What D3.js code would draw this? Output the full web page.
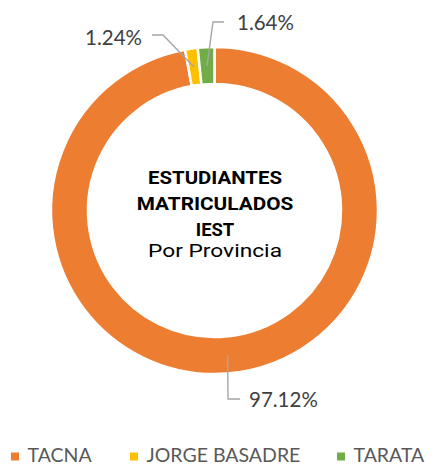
<!DOCTYPE html>
<html><head><meta charset="utf-8">
<script src="https://cdn.jsdelivr.net/npm/d3@7"></script>
<style>html,body{margin:0;padding:0;background:#fff;}svg{display:block;}</style>
</head><body>
<svg id="chart" width="432" height="464"></svg>
<script>
const categories = ["TACNA", "JORGE BASADRE", "TARATA"];
const values = [97.12, 1.24, 1.64];
const valueLabels = ["97.12%", "1.24%", "1.64%"];
const colors = ["#ED7D31", "#FFC000", "#70AD47"];
const titleLines = ["ESTUDIANTES", "MATRICULADOS", "IEST"];
const subtitle = "Por Provincia";

const W = 432, H = 464;
const cx = 214.5, cy = 210.5, outerR = 163.5, innerR = 126.5;
const svg = d3.select("#chart");
const g = svg.append("g").attr("transform", `translate(${cx},${cy})`);

const pie = d3.pie().sort(null).value(d => d)(values);
const arc = d3.arc().innerRadius(innerR).outerRadius(outerR);
const midArc = d3.arc().innerRadius((innerR + outerR) / 2).outerRadius((innerR + outerR) / 2);

g.selectAll("path.slice").data(pie).join("path")
  .attr("class", "slice")
  .attr("d", arc)
  .attr("fill", (d, i) => colors[i])
  .attr("stroke", "#fff")
  .attr("stroke-width", 2.5)
  .attr("stroke-linejoin", "miter");

// label layout (elbow, end of leader, text anchor) relative to centre
const labelLayout = [
  { elbow: [13.5, 188.5], end: [25.5, 188.5], text: [34.5, 196.5], anchor: "start" },
  { elbow: [-51.5, -175.5], end: [-62.5, -175.5], text: [-72.5, -165.5], anchor: "end" },
  { elbow: [-1.5, -188.5], end: [9.5, -188.5], text: [22.5, -180.5], anchor: "start" }
];

pie.forEach((d, i) => {
  const c = midArc.centroid(d);
  const L = labelLayout[i];
  g.append("path")
    .attr("d", d3.line()([c, L.elbow, L.end]))
    .attr("fill", "none")
    .attr("stroke", "#A6A6A6")
    .attr("stroke-width", 1.4);
  g.append("text")
    .attr("x", L.text[0]).attr("y", L.text[1])
    .attr("text-anchor", L.anchor)
    .attr("font-family", "Lato, 'Open Sans', sans-serif")
    .attr("font-size", 20.5)
    .attr("fill", "#404040")
    .text(valueLabels[i]);
});

// centre title: widen glyphs horizontally to match the reference face
function fitText(parent, str, y, width, size, weight) {
  const grp = parent.append("g").attr("transform", `translate(215,${y})`);
  const t = grp.append("text")
    .attr("x", 0).attr("y", 0)
    .attr("text-anchor", "middle")
    .attr("font-family", "Roboto, 'Open Sans', sans-serif")
    .attr("font-weight", weight)
    .attr("font-size", size)
    .attr("fill", "#000")
    .text(str);
  const w = t.node().getComputedTextLength();
  const sx = w > 0 ? width / w : 1;
  grp.attr("transform", `translate(215,${y}) scale(${sx},1)`);
}
const titleY = [183.5, 209.5, 236];
const titleW = [134, 156.5, 38.5];
titleLines.forEach((t, i) => fitText(svg, t, titleY[i], titleW[i], 18.6, 700));
fitText(svg, subtitle, 257, 134, 18, 400);

// legend
const legendX = [11, 130, 337];
const legend = svg.append("g");
categories.forEach((c, i) => {
  const lg = legend.append("g").attr("transform", `translate(${legendX[i]},0)`);
  lg.append("rect").attr("x", 0).attr("y", 452.5).attr("width", 8).attr("height", 8).attr("fill", colors[i]);
  lg.append("text").attr("x", 16.5).attr("y", 461.5)
    .attr("font-family", "Lato, 'Open Sans', sans-serif")
    .attr("font-size", 19.5)
    .attr("fill", "#595959")
    .text(c);
});
</script>
</body></html>
